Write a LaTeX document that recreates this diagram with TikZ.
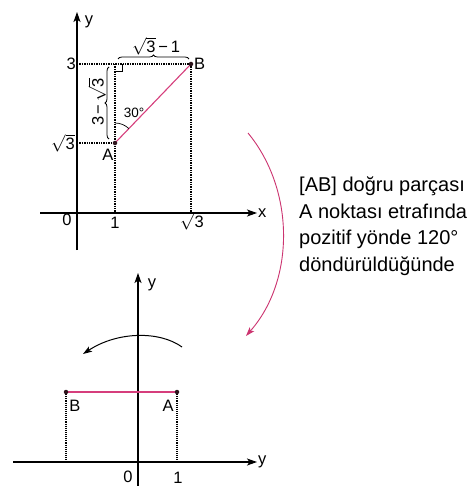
\documentclass[tikz,border=0pt]{standalone}
\usepackage{fontspec}
\setmainfont{Liberation Sans}
\usetikzlibrary{arrows.meta,decorations.pathreplacing}
\definecolor{SegPink}{RGB}{214,62,124}
\definecolor{ArcPink}{RGB}{204,52,112}
\definecolor{DotBlack}{RGB}{45,20,28}
\newcommand{\sqthree}{$\sqrt{\mbox{3}}$}

\begin{document}
\begin{tikzpicture}[x=1pt, y=-1pt,
  font=\fontsize{16.5}{19}\selectfont,
  axis/.style={line width=1.1pt, -{Stealth[length=10pt,width=7pt,inset=2.5pt]}},
  guide/.style={densely dotted, line width=1.4pt},
  segment/.style={SegPink, line width=1.1pt},
  pt/.style={circle, fill=DotBlack, inner sep=0pt, minimum size=4.5pt},
  lbl/.style={inner sep=1pt},
  note/.style={anchor=base west, inner sep=0pt, font=\fontsize{20}{24}\selectfont},
  brace/.style={decorate, decoration={brace, amplitude=4pt}, line width=0.8pt}
]
\fill[white] (0,0) rectangle (473,486);
\useasboundingbox (0,0) rectangle (473,486);

% Upper figure
\coordinate (yb1) at (77,250);
\coordinate (yt1) at (77,12);
\coordinate (xl1) at (40,213);
\coordinate (xr1) at (257,213);
\coordinate (A) at (115,143);
\coordinate (B) at (191,64);
\coordinate (C) at (115,64);
\coordinate (y3) at (77,64);
\coordinate (ysq) at (77,143);
\coordinate (x1) at (115,213);
\coordinate (xsq) at (191,213);

\draw[axis] (yb1) -- (yt1);
\draw[axis] (xl1) -- (xr1);
\draw[guide] (y3) -- (B);
\draw[guide] (ysq) -- (A);
\draw[guide] (C) -- (x1);
\draw[guide] (B) -- (xsq);
\draw[line width=0.8pt] ([yshift=-7pt]C) -| ([xshift=7pt]C);
\draw[segment] (A) -- (B);
\draw[line width=0.7pt] ([yshift=20pt]A) arc[start angle=90, end angle=46, radius=20pt];
\draw[brace] (118,59) -- (189,59);
\draw[brace] (109,139) -- (109,67);
\node[pt] (pA) at (A) {};
\node[pt] (pB) at (B) {};

\node[lbl] at (89,22) {y};
\node[lbl, right] at (xr1) {x};
\node[lbl] at (67,220) {0};
\node[lbl] at (115,223) {1};
\node[lbl] at (192,221) {\sqthree};
\node[lbl, left] at (y3) {3};
\node[lbl, left] at ([xshift=-1pt]ysq) {\sqthree};
\node[lbl] at ([xshift=-7pt,yshift=-12pt]A) {A};
\node[lbl, right] at ([xshift=2pt]B) {B};
\node[lbl] at (156,46) {\sqthree\,−\,1};
\node[lbl, rotate=90] at (97,102) {3\,−\,\sqthree};
\node[lbl, font=\fontsize{13.5}{15}\selectfont] at (134,113) {30°};

% Rotation arrow and note
\draw[ArcPink, line width=0.9pt, -{Stealth[length=9pt,width=6pt,inset=2pt]}]
  (248,133) .. controls (295,190) and (295,280) .. (246,336);
\node[note] (t1) at (299,191) {[AB] doğru parçası};
\node[note] (t2) at (299,218) {A noktası etrafında};
\node[note] (t3) at (299,244) {pozitif yönde 120°};
\node[note] (t4) at (299,271) {döndürüldüğünde};

% Lower figure
\coordinate (yb2) at (138,486);
\coordinate (yt2) at (138,273);
\coordinate (xl2) at (13,462);
\coordinate (xr2) at (257,462);
\coordinate (A2) at (177,392);
\coordinate (B2) at (66,392);
\coordinate (a2x) at (177,462);
\coordinate (b2x) at (66,462);

\draw[axis] (yb2) -- (yt2);
\draw[axis] (xl2) -- (xr2);
\draw[guide, line width=1.1pt] (B2) -- (b2x);
\draw[guide, line width=1.1pt] (A2) -- (a2x);
\draw[segment] (B2) -- (A2);
\draw[line width=1pt, -{Stealth[length=9pt,width=6pt,inset=2pt]}]
  (182,347) .. controls (160,331) and (118,331) .. (83,354);
\node[pt] (pA2) at (A2) {};
\node[pt] (pB2) at (B2) {};

\node[lbl] at (152,285) {y};
\node[lbl, right] at (xr2) {y};
\node[lbl] at (75,406) {B};
\node[lbl] at (168,406) {A};
\node[lbl] at (128,477) {0};
\node[lbl] at (178,478) {1};
\end{tikzpicture}
\end{document}
